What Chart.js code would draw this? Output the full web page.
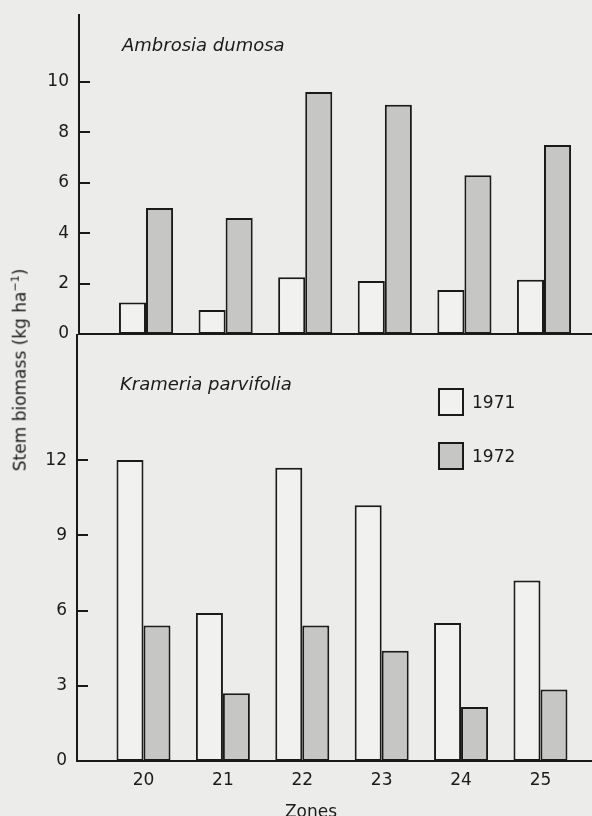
<!DOCTYPE html>
<html lang="en">
<head>
  <meta charset="UTF-8" />
  <title>Stem biomass by zone</title>
  <script src="https://cdn.jsdelivr.net/npm/chart.js"></script>
  <style>
    body { margin: 0; background: #ececea; font-family: "DejaVu Sans", sans-serif; color: #1a1a1a; }
    #wrap { position: relative; width: 592px; height: 816px; overflow: hidden; }
    canvas { position: absolute; left: 0; }
    #topChart { top: 0; }
    #bottomChart { top: 334px; }
    .species { position: absolute; font-style: italic; font-size: 18px; white-space: nowrap; line-height: 1; transform: translateY(-50%); }
    #yTitle { position: absolute; left: 19px; top: 370px; transform: translate(-50%, -50%) rotate(-90deg);
              white-space: nowrap; font-size: 17px; line-height: 1; }
    #xTitle { position: absolute; left: 311px; top: 811px; transform: translate(-50%, -50%); font-size: 17px; line-height: 1; }
    .key { position: absolute; left: 438px; width: 22px; height: 24px; border: 2px solid #1a1a1a; }
    .keyText { position: absolute; left: 472px; font-size: 17px; line-height: 1; transform: translateY(-50%); }
  </style>
</head>
<body>
  <div id="wrap">
    <canvas id="topChart" width="592" height="340"></canvas>
    <canvas id="bottomChart" width="592" height="482"></canvas>

    <div class="species" style="left:122px; top:45px;">Ambrosia dumosa</div>
    <div class="species" style="left:120px; top:384px;">Krameria parvifolia</div>
    <div id="yTitle">Stem biomass (kg ha<sup style="font-size:11px">−1</sup>)</div>
    <div id="xTitle">Zones</div>

    <div class="key" style="top:388px; background:#f1f1ef;"></div>
    <div class="keyText" style="top:402px;">1971</div>
    <div class="key" style="top:442px; background:#c6c6c4;"></div>
    <div class="keyText" style="top:456px;">1972</div>
  </div>

  <script>
    // values (kg per ha)
    const zones = [20, 21, 22, 23, 24, 25];
    const ambrosia1971 = [1.25, 0.95, 2.25, 2.1, 1.75, 2.15];
    const ambrosia1972 = [5.0, 4.6, 9.6, 9.1, 6.3, 7.5];
    const krameria1971 = [12.0, 5.9, 11.7, 10.2, 5.5, 7.2];
    const krameria1972 = [5.4, 2.7, 5.4, 4.4, 2.15, 2.85];
    const ambrosiaTicks = [0, 2, 4, 6, 8, 10];
    const krameriaTicks = [0, 3, 6, 9, 12];

    const INK = '#1a1a1a';
    const WHITE_FILL = '#f1f1ef';
    const GREY_FILL = '#c6c6c4';

    // short tick marks pointing into the plot, like the printed figure
    const innerTicks = {
      id: 'innerTicks',
      afterDraw(chart) {
        const y = chart.scales.y, ctx = chart.ctx, left = chart.chartArea.left;
        ctx.save();
        ctx.strokeStyle = INK;
        ctx.lineWidth = 2;
        y.ticks.forEach(t => {
          const py = Math.round(y.getPixelForValue(t.value));
          ctx.beginPath();
          ctx.moveTo(left, py);
          ctx.lineTo(left + 11, py);
          ctx.stroke();
        });
        ctx.restore();
      }
    };

    function points(vals) {
      return zones.map((z, i) => ({ x: z, y: vals[i] }));
    }

    function noPad(s) {
      s.paddingTop = 0; s.paddingBottom = 0; s.paddingLeft = 0; s.paddingRight = 0;
    }

    function makePanel(canvasId, v1971, v1972, yTicks, cfg) {
      return new Chart(document.getElementById(canvasId), {
        type: 'bar',
        data: {
          datasets: [
            { label: '1971', data: points(v1971), backgroundColor: WHITE_FILL, borderColor: INK, borderWidth: 2, borderSkipped: false },
            { label: '1972', data: points(v1972), backgroundColor: GREY_FILL, borderColor: INK, borderWidth: 2, borderSkipped: false }
          ]
        },
        options: {
          responsive: false,
          animation: false,
          layout: { padding: cfg.padding },
          datasets: { bar: { categoryPercentage: 0.68, barPercentage: 1.0 } },
          plugins: { legend: { display: false }, tooltip: { enabled: false } },
          scales: {
            x: {
              type: 'linear',
              offset: false,
              min: cfg.xMin,
              max: cfg.xMax,
              grid: { display: false, drawTicks: false },
              border: { display: true, color: INK, width: 2 },
              afterBuildTicks: s => { s.ticks = zones.map(z => ({ value: z })); },
              afterFit: s => { s.height = cfg.xHeight; noPad(s); },
              ticks: { display: cfg.showX, color: INK, padding: 9, font: { family: 'DejaVu Sans', size: 17 } }
            },
            y: {
              min: 0,
              max: cfg.yMax,
              grid: { display: false, drawTicks: false },
              border: { display: true, color: INK, width: 2 },
              afterBuildTicks: s => { s.ticks = yTicks.map(v => ({ value: v })); },
              afterFit: s => { s.width = cfg.yWidth; noPad(s); },
              ticks: { color: INK, padding: 10, font: { family: 'DejaVu Sans', size: 17 } }
            }
          }
        },
        plugins: [innerTicks]
      });
    }

    makePanel('topChart', ambrosia1971, ambrosia1972, ambrosiaTicks, {
      padding: { top: 15, bottom: 6, left: 0, right: 0 },
      xMin: 19.158, xMax: 25.603, xHeight: 0, showX: false,
      yMax: 12.66, yWidth: 79
    });

    makePanel('bottomChart', krameria1971, krameria1972, krameriaTicks, {
      padding: { top: 0, bottom: 0, left: 0, right: 0 },
      xMin: 19.1625, xMax: 25.649, xHeight: 55, showX: true,
      yMax: 17.03, yWidth: 77
    });
  </script>
</body>
</html>
